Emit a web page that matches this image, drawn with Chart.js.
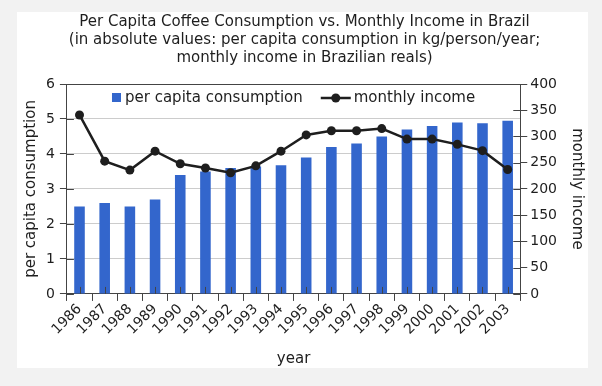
<!DOCTYPE html>
<html>
<head>
<meta charset="utf-8">
<script src="https://cdn.jsdelivr.net/npm/chart.js@4"></script>
<style>
  html, body { margin: 0; padding: 0; background: #f2f2f2; }
  #card { position: absolute; left: 17px; top: 12px; width: 571px; height: 356px; background: #fff; }
</style>
</head>
<body>
<div id="card"><canvas id="coffeeChart"></canvas></div>
<script>
const years = ["1986", "1987", "1988", "1989", "1990", "1991", "1992", "1993", "1994",
  "1995", "1996", "1997", "1998", "1999", "2000", "2001", "2002", "2003"];
const consumption = [2.5, 2.6, 2.5, 2.7, 3.4, 3.5, 3.6, 3.64, 3.68, 3.9, 4.2, 4.3, 4.5, 4.7, 4.8, 4.9, 4.88, 4.95];
const income = [341, 253, 236, 272, 248, 240, 231, 244, 272, 303, 311, 311, 315, 295, 295, 285, 273, 237];

const FONT = "'DejaVu Sans', Verdana, sans-serif";
const INK = "#1e1e1e";
const AXIS = "#444";
const BLUE = "#3366cc";

// ticks in the reference cross the axis line, draw the inner half too
const innerTicks = {
  id: "innerTicks",
  afterDraw(chart) {
    const ctx = chart.ctx;
    ctx.save();
    ctx.strokeStyle = AXIS; ctx.lineWidth = 1;
    const yl = chart.scales.y, yr = chart.scales.y1, x = chart.scales.x;
    yl.ticks.forEach((t, i) => {
      const p = Math.round(yl.getPixelForTick(i)) + 0.5;
      ctx.beginPath(); ctx.moveTo(yl.right, p); ctx.lineTo(yl.right + 7, p); ctx.stroke();
    });
    yr.ticks.forEach((t, i) => {
      const p = Math.round(yr.getPixelForTick(i)) + 0.5;
      ctx.beginPath(); ctx.moveTo(yr.left - 7, p); ctx.lineTo(yr.left, p); ctx.stroke();
    });
    x.ticks.forEach((t, i) => {
      const p = Math.round(x.getPixelForTick(i)) + 0.5;
      ctx.beginPath(); ctx.moveTo(p, x.top - 7); ctx.lineTo(p, x.top); ctx.stroke();
    });
    ctx.restore();
  }
};

// one-row legend inside the top of the plot
const innerLegend = {
  id: "innerLegend",
  afterDatasetsDraw(chart) {
    const ctx = chart.ctx, area = chart.chartArea;
    ctx.save();
    ctx.font = "15px " + FONT;
    ctx.textBaseline = "middle";
    const t1 = "per capita consumption", t2 = "monthly income";
    const w1 = ctx.measureText(t1).width, w2 = ctx.measureText(t2).width;
    const total = 9 + 4 + w1 + 18 + 30 + 3 + w2;
    let x = (area.left + area.right) / 2 - total / 2;
    const y = area.top + 14;
    ctx.fillStyle = BLUE;
    ctx.fillRect(x, y - 5, 9, 9);
    x += 13;
    ctx.fillStyle = INK;
    ctx.fillText(t1, x, y);
    x += w1 + 18;
    ctx.strokeStyle = INK; ctx.lineWidth = 2.5;
    ctx.beginPath(); ctx.moveTo(x, y); ctx.lineTo(x + 30, y); ctx.stroke();
    ctx.beginPath(); ctx.arc(x + 15, y, 4.5, 0, Math.PI * 2); ctx.fill();
    x += 33;
    ctx.fillText(t2, x, y);
    ctx.restore();
  }
};

new Chart(document.getElementById("coffeeChart"), {
  data: {
    labels: years,
    datasets: [
      {
        type: "line",
        label: "monthly income",
        data: income,
        yAxisID: "y1",
        borderColor: INK,
        backgroundColor: INK,
        borderWidth: 2.5,
        pointRadius: 4.5,
        pointBackgroundColor: INK,
        pointBorderWidth: 0,
        tension: 0,
        order: 0
      },
      {
        type: "bar",
        label: "per capita consumption",
        data: consumption,
        yAxisID: "y",
        backgroundColor: BLUE,
        barPercentage: 0.42,
        categoryPercentage: 1,
        order: 1
      }
    ]
  },
  options: {
    responsive: true,
    maintainAspectRatio: false,
    animation: false,
    layout: { padding: { left: 4, right: 0, top: 0, bottom: 0 } },
    plugins: {
      title: {
        display: true,
        text: ["Per Capita Coffee Consumption vs. Monthly Income in Brazil",
               "(in absolute values: per capita consumption in kg/person/year;",
               "monthly income in Brazilian reals)"],
        color: INK,
        font: { family: FONT, size: 15, weight: "normal", lineHeight: 1.2 },
        padding: { top: 1, bottom: 17 }
      },
      legend: { display: false },
      tooltip: { enabled: false }
    },
    scales: {
      x: {
        offset: true,
        grid: { display: true, drawOnChartArea: false, drawTicks: true, tickLength: 7, color: AXIS },
        border: { color: AXIS },
        ticks: { color: INK, font: { family: FONT, size: 14 }, minRotation: 45, maxRotation: 45, padding: 0, autoSkip: false },
        title: { display: true, text: "year", color: INK, font: { family: FONT, size: 15 }, padding: { top: 12, bottom: 0 } }
      },
      y: {
        position: "left",
        min: 0, max: 6,
        grid: {
          color: ctx => (ctx.tick && ctx.tick.value === 6 ? AXIS : "#cccccc"),
          tickColor: AXIS,
          tickLength: 7
        },
        border: { color: AXIS },
        ticks: { stepSize: 1, color: INK, font: { family: FONT, size: 14 }, padding: 5 },
        title: { display: true, text: "per capita consumption", color: INK, font: { family: FONT, size: 15 }, padding: { top: 1, bottom: 1 } }
      },
      y1: {
        position: "right",
        min: 0, max: 400,
        grid: { drawOnChartArea: false, color: AXIS, tickLength: 7 },
        border: { color: AXIS },
        ticks: { stepSize: 50, color: INK, font: { family: FONT, size: 14 }, padding: 3 },
        title: { display: true, text: "monthly income", color: INK, font: { family: FONT, size: 15 }, padding: { top: 2, bottom: 8 } }
      }
    }
  },
  plugins: [innerTicks, innerLegend]
});
</script>
</body>
</html>
